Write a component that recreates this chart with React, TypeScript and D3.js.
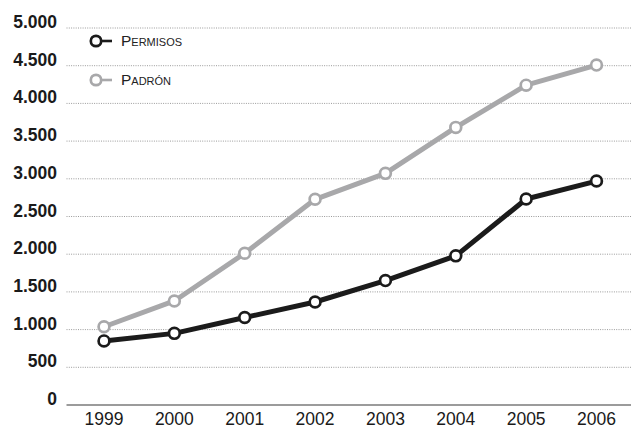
import React from "react";
import * as d3 from "d3";

const years = [1999, 2000, 2001, 2002, 2003, 2004, 2005, 2006];
const permisos = [850, 950, 1160, 1366, 1650, 1978, 2732, 2970];
const padron = [1038, 1380, 2012, 2728, 3072, 3682, 4242, 4508];
const yTicks = [0, 500, 1000, 1500, 2000, 2500, 3000, 3500, 4000, 4500, 5000];
const seriesNames = ["Permisos", "Padrón"];

const W = 631;
const H = 429;

const fmt = (v: number) => d3.format(",")(v).replace(/,/g, ".");

export default function App() {
  const x = d3.scaleLinear().domain([1999, 2006]).range([104, 596.5]);
  const y = d3.scaleLinear().domain([0, 5000]).range([405, 28]);
  const line = d3
    .line<number>()
    .x((_, i) => x(years[i]))
    .y((d) => y(d));

  const series = [
    { name: seriesNames[0], values: permisos, color: "#1b1b1b" },
    { name: seriesNames[1], values: padron, color: "#a8a8aa" },
  ];

  const font = "'Liberation Sans', Arial, Helvetica, sans-serif";

  return (
    <svg
      width={W}
      height={H}
      style={{ position: "absolute", left: 0, top: 0, background: "#fff" }}
      fontFamily={font}
    >
      {yTicks.map((t) => (
        <g key={t}>
          {t > 0 && (
            <line
              x1={66.5}
              x2={W}
              y1={y(t)}
              y2={y(t)}
              stroke="#9a9a9a"
              strokeWidth={1}
              strokeDasharray="1 1.3"
            />
          )}
          <text
            x={57}
            y={y(t)}
            textAnchor="end"
            fontSize={17.5}
            fontWeight="bold"
            fill="#1a1a1a"
          >
            {fmt(t)}
          </text>
        </g>
      ))}
      <line x1={66.5} x2={W} y1={y(0)} y2={y(0)} stroke="#7a7a7a" strokeWidth={1.5} />
      {years.map((yr) => (
        <text key={yr} x={x(yr)} y={424.5} textAnchor="middle" fontSize={17.5} fill="#1a1a1a">
          {yr}
        </text>
      ))}
      {series.map((s) => (
        <g key={s.name}>
          <path
            d={line(s.values) || ""}
            fill="none"
            stroke={s.color}
            strokeWidth={5}
            strokeLinejoin="round"
          />
          {s.values.map((v, i) => (
            <circle
              key={i}
              cx={x(years[i])}
              cy={y(v)}
              r={5.4}
              fill="#fff"
              stroke={s.color}
              strokeWidth={2.7}
            />
          ))}
        </g>
      ))}
      {series.map((s, i) => {
        const cy = 41 + i * 39;
        return (
          <g key={"leg" + s.name}>
            <line x1={100} x2={112} y1={cy} y2={cy} stroke={s.color} strokeWidth={2.6} />
            <circle cx={96} cy={cy} r={5.2} fill="#fff" stroke={s.color} strokeWidth={2.7} />
            <text
              x={121}
              y={cy + 5}
              fontSize={15.5}
              fill="#222"
              style={{ fontVariant: "small-caps" }}
            >
              {s.name}
            </text>
          </g>
        );
      })}
    </svg>
  );
}
